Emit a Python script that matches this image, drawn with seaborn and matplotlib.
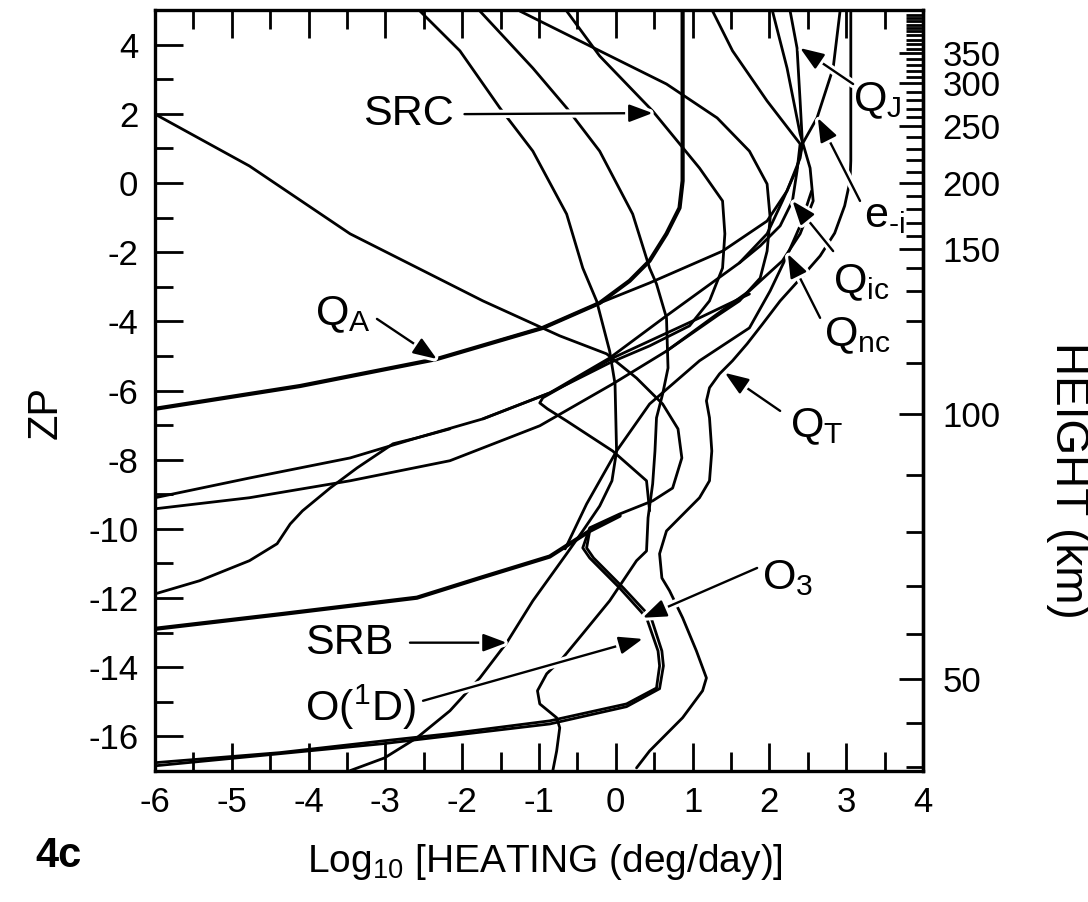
import numpy as np
import matplotlib
matplotlib.use("Agg")
import matplotlib.pyplot as plt
import matplotlib.patheffects as pe
from matplotlib.ticker import FixedLocator
import seaborn as sns

# ---------------- data (log10 heating [deg/day] vs ZP) ----------------
o3_x = [-6.00, -4.77, -3.46, -2.55, -1.73, -0.73, -0.12, 0.27, 0.61, 0.81, 0.86, 0.74, 0.48, 0.05,
        -0.34, -0.43, -0.34, 0.05, 0.40, 0.55, 0.57, 0.53, 0.14, -0.86, -2.16, -3.03, -4.38, -6.00]
o3_z = [1.99, 0.49, -1.47, -2.49, -3.41, -4.42, -4.94, -5.64, -6.39, -7.11, -7.95, -8.82, -9.19, -9.57,
        -9.97, -10.55, -10.84, -11.71, -12.57, -13.53, -13.96, -14.60, -15.06, -15.55, -15.92, -16.13, -16.47, -16.76]

o1d_x = [-6.00, -3.03, -0.86, 0.14, 0.57, 0.62, 0.60, 0.46, 0.10, -0.29, -0.38, -0.34]
o1d_z = [-16.85, -16.21, -15.64, -15.14, -14.62, -13.96, -13.53, -12.57, -11.71, -10.84, -10.55, -10.06]

lya_x = [-6.00, -4.34, -2.59, -1.77, -0.86, -0.34, 0.05]
lya_z = [-12.89, -12.46, -11.99, -11.42, -10.80, -10.06, -9.62]

srb_x = [-2.55, -2.03, -1.51, -1.08, -0.64, -0.43, -0.25, -0.08, -0.01, 0.01, -0.05, -0.21, -0.43,
         -0.64, -1.08, -1.42, -1.77, -2.16, -2.59, -3.01, -3.46]
srb_z = [4.97, 3.82, 2.17, 0.92, -0.90, -2.46, -3.41, -4.86, -5.81, -7.75, -8.61, -9.34, -10.06,
         -10.72, -12.08, -13.29, -14.31, -15.26, -16.04, -16.62, -16.99]

euv_x = [-1.77, -1.08, -0.64, -0.21, 0.22, 0.44, 0.53, 0.66, 0.68, 0.61, 0.53, 0.51, 0.48, 0.42, 0.40,
         0.27, -0.08, -0.43, -0.69, -0.90, -1.02, -0.99, -0.77, -0.73, -0.77, -0.82]
euv_z = [4.97, 3.32, 2.17, 0.92, -0.90, -2.46, -2.92, -3.90, -5.35, -6.10, -6.79, -7.75, -8.70, -9.68, -10.64,
         -10.92, -12.08, -13.03, -13.73, -14.19, -14.68, -15.06, -15.46, -15.75, -16.42, -16.99]

qa_x = [-6.00, -4.11, -2.33, -0.95, -0.21, 0.18, 0.44, 0.66, 0.83, 0.87, 0.87]
qa_z = [-6.53, -5.87, -5.09, -4.19, -3.47, -2.83, -2.25, -1.47, -0.72, 0.06, 4.97]

qj_x = [-1.51, -0.95, -0.21, 0.44, 1.39, 1.97, 2.23, 2.40, 2.43, 2.40, 2.36, 2.27]
qj_z = [-4.55, -4.19, -3.47, -2.89, -1.97, -1.10, -0.23, 0.72, 1.13, 2.37, 3.90, 4.97]

no_x = [-6.00, -4.77, -3.46, -2.16, -0.99, -0.04, 0.66, 1.32, 1.74, 2.17, 2.40, 2.57, 2.53, 2.40, 2.23, 2.04]
no_z = [-9.42, -9.10, -8.61, -8.03, -7.02, -5.81, -4.86, -3.79, -3.12, -2.25, -1.47, -0.52, 0.43, 1.42, 3.32, 4.97]

ei_x = [-6.00, -4.77, -3.46, -2.59, -1.73, -0.86, -0.08, 0.66, 1.61, 1.97, 2.17, 2.36, 2.43, 2.62, 2.83, 2.92]
ei_z = [-9.10, -8.53, -7.95, -7.37, -6.82, -6.07, -5.06, -3.84, -2.31, -1.47, -0.52, 0.43, 1.13, 1.88, 3.32, 4.97]

co2_x = [-6.00, -5.42, -4.77, -4.41, -4.24, -4.08, -3.72, -3.37, -2.90, -2.59, -2.16]
co2_z = [-11.88, -11.50, -10.92, -10.43, -9.86, -9.48, -8.82, -8.24, -7.54, -7.37, -7.11]

src_x = [-0.64, -0.21, 0.48, 1.09, 1.39, 1.42, 1.39, 1.22, 0.96, 0.44, -0.08, -0.86, -1.73]
src_z = [4.97, 3.67, 2.08, 0.43, -0.52, -1.47, -2.46, -3.41, -4.13, -4.71, -5.20, -6.07, -6.82]

fuv_x = [-1.25, -0.21, 0.66, 1.32, 1.74, 1.97, 2.01, 1.97, 1.88, 1.61, 1.32, 0.66]
fuv_z = [4.97, 3.82, 2.86, 1.88, 0.92, -0.03, -1.01, -1.97, -2.75, -3.41, -3.84, -4.86]

qic_x = [1.26, 1.52, 1.97, 2.40, 2.36, 2.30, 2.14, 1.88, 1.61]
qic_z = [4.97, 3.82, 2.37, 1.13, 0.35, -0.52, -1.24, -1.82, -2.31]

qnc_x = [2.55, 2.40, 2.24, 2.01, 1.74, 1.09, 0.44, 0.01, -0.38, -0.66]
qnc_z = [-0.23, -1.24, -2.05, -3.12, -4.19, -5.14, -6.39, -7.75, -9.28, -10.58]

hk_x = [1.74, 1.09, -0.04, -0.95, -0.99, -0.89, -0.64, -0.04, 0.40, 0.44]
hk_z = [-3.21, -3.90, -5.06, -6.21, -6.36, -6.53, -6.88, -7.75, -8.61, -9.48]

qt_x = [0.27, 0.44, 0.87, 1.13, 1.18, 1.05, 0.87, 0.70, 0.60, 0.57, 0.66, 0.83, 1.09, 1.22, 1.25, 1.22,
        1.18, 1.22, 1.35, 1.52, 1.71, 1.91, 2.14, 2.40, 2.66, 2.85, 2.98, 3.05, 3.06, 3.06]
qt_z = [-16.91, -16.42, -15.46, -14.68, -14.31, -13.53, -12.57, -11.79, -11.42, -10.72, -10.06, -9.68,
        -9.10, -8.61, -7.75, -6.79, -6.30, -5.92, -5.52, -5.14, -4.65, -4.08, -3.41, -2.77, -2.11, -1.45,
        -0.66, 0.06, 0.64, 4.97]

# height (km) versus ZP for the right-hand axis
height_km = [25, 30, 40, 50, 60, 70, 80, 90, 100, 110, 120, 130, 140, 150, 200, 250, 300, 350, 400, 450, 500]
height_zp = [-17.57, -16.88, -15.61, -14.34, -13.03, -11.65, -10.09, -8.44, -6.68, -5.20, -3.99, -3.12,
             -2.46, -1.91, 0.00, 1.65, 2.89, 3.76, 4.39, 4.86, 5.20]
height_labels = [50, 100, 150, 200, 250, 300, 350]

x_ticks = [-6, -5, -4, -3, -2, -1, 0, 1, 2, 3, 4]
zp_ticks = [-16, -14, -12, -10, -8, -6, -4, -2, 0, 2, 4]

# ---------------- style ----------------
sns.set_theme(style="ticks")
plt.rcParams["font.family"] = ["Liberation Sans", "DejaVu Sans"]
plt.rcParams["mathtext.fontset"] = "custom"
plt.rcParams["mathtext.rm"] = "Liberation Sans"
plt.rcParams["mathtext.it"] = "Liberation Sans:italic"
plt.rcParams["mathtext.bf"] = "Liberation Sans:bold"
plt.rcParams["axes.unicode_minus"] = False
plt.rcParams["text.color"] = "black"

fig = plt.figure(figsize=(10.88, 9.02), dpi=100)
ax = fig.add_axes([155 / 1088, 1 - 771 / 902, (923 - 155) / 1088, (771 - 10) / 902])

thin = 2.0
thick = 3.0
curves = [
    (o3_x, o3_z, thin), (o1d_x, o1d_z, thin), (lya_x, lya_z, thick),
    (srb_x, srb_z, thin), (euv_x, euv_z, thin), (qa_x, qa_z, thick),
    (qj_x, qj_z, thin), (no_x, no_z, thin), (ei_x, ei_z, thin),
    (co2_x, co2_z, thin), (src_x, src_z, thin), (fuv_x, fuv_z, thin),
    (qic_x, qic_z, thin), (qnc_x, qnc_z, thin), (hk_x, hk_z, thin),
    (qt_x, qt_z, thin),
]
for xs, zs, lw in curves:
    sns.lineplot(x=xs, y=zs, sort=False, estimator=None, color="black",
                 linewidth=lw, ax=ax)

ax.set_xlim(-6, 4)
ax.set_ylim(-17, 5)
ax.set_xlabel("")
ax.set_ylabel("")
for s in ax.spines.values():
    s.set_linewidth(2.4)
    s.set_color("black")
    s.set_visible(True)

TS = 25
ax.set_xticks(x_ticks)
ax.set_xticklabels([str(v) for v in x_ticks])
ax.xaxis.set_minor_locator(FixedLocator(np.arange(-5.5, 4, 1.0)))
ax.set_yticks(zp_ticks)
ax.set_yticklabels([str(v) for v in zp_ticks])
ax.yaxis.set_minor_locator(FixedLocator(np.arange(-17, 6, 2)))
ax.tick_params(axis="x", which="both", direction="in", top=True, bottom=True,
               labelsize=TS, pad=11, width=2.0, color="black", labelcolor="black")
ax.tick_params(axis="x", which="major", length=20)
ax.tick_params(axis="x", which="minor", length=14)
ax.tick_params(axis="y", which="both", direction="in", left=True, right=False,
               labelsize=TS, pad=12, width=2.0, color="black", labelcolor="black")
ax.tick_params(axis="y", which="major", length=20)
ax.tick_params(axis="y", which="minor", length=13)


def zp2h(z):
    return np.interp(z, height_zp, height_km)


def h2zp(h):
    return np.interp(h, height_km, height_zp)


sec = ax.secondary_yaxis("right", functions=(zp2h, h2zp))
sec.set_yticks(height_labels)
sec.set_yticklabels([str(v) for v in height_labels])
sec.yaxis.set_minor_locator(FixedLocator(np.arange(30, 460, 10)))
sec.tick_params(which="both", direction="in", labelsize=TS, pad=14, width=2.0,
                color="black", labelcolor="black")
sec.tick_params(which="major", length=17)
sec.tick_params(which="minor", length=12)
sec.spines["right"].set_linewidth(2.4)

halo = [pe.Stroke(linewidth=6, foreground="white"), pe.Normal()]
LS = 31


def label(text, pos, tail, tip):
    ax.text(pos[0], pos[1], text, ha="center", va="center", fontsize=LS,
            color="black", clip_on=False, zorder=5)
    ann = ax.annotate("", xy=tip, xytext=tail, zorder=6,
                      arrowprops=dict(arrowstyle="-|>,head_length=0.8,head_width=0.3",
                                      color="black", lw=1.7, shrinkA=0, shrinkB=0,
                                      mutation_scale=18))
    ann.arrow_patch.set_path_effects(halo)


label("SRC", (-2.70, 1.99), (-1.97, 1.99), (0.48, 2.02))
label(r"Q$_{\mathrm{A}}$", (-3.55, -3.80), (-3.11, -3.93), (-2.33, -5.09))
label("SRB", (-3.47, -13.29), (-2.68, -13.29), (-1.42, -13.29))
label(r"O($^{\mathrm{1}}$D)", (-3.33, -15.17), (-2.51, -14.97), (0.35, -13.18))
label(r"O$_{\mathrm{3}}$", (2.24, -11.42), (1.84, -11.13), (0.35, -12.57))
label(r"Q$_{\mathrm{T}}$", (2.62, -7.05), (2.14, -6.59), (1.42, -5.49))
label(r"Q$_{\mathrm{nc}}$", (3.15, -4.42), (2.66, -3.90), (2.24, -2.05))
label(r"Q$_{\mathrm{ic}}$", (3.20, -2.89), (2.83, -1.97), (2.30, -0.52))
label("e$_{\\mathrm{\u2010i}}$", (3.50, -0.95), (3.18, -0.52), (2.63, 1.88))
label(r"Q$_{\mathrm{J}}$", (3.41, 2.37), (3.09, 2.86), (2.40, 3.90))

fig.text(545 / 1088, 1 - 862 / 902, r"Log$_{\mathrm{10}}$ [HEATING (deg/day)]",
         ha="center", va="center", fontsize=28, color="black")
fig.text(46 / 1088, 1 - 412 / 902, "ZP", rotation=90, ha="center", va="center",
         fontsize=30, color="black")
fig.text(1068 / 1088, 1 - 480 / 902, "HEIGHT (km)", rotation=270, ha="center",
         va="center", fontsize=33, color="black")
fig.text(58 / 1088, 1 - 856 / 902, "4c", ha="center", va="center", fontsize=30,
         fontweight="bold", color="black")

fig.savefig("out.png", dpi=100, facecolor="white")
